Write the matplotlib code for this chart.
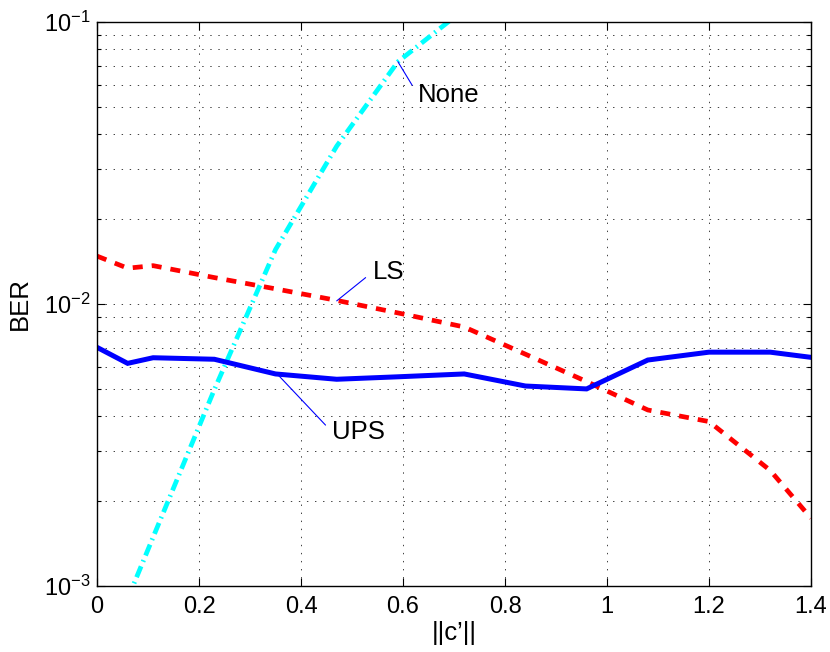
import matplotlib
matplotlib.use("Agg")
import matplotlib.pyplot as plt
from matplotlib.ticker import FixedLocator, LogLocator, NullFormatter

plt.rcParams["font.family"] = ["Liberation Sans", "DejaVu Sans"]
plt.rcParams["mathtext.fontset"] = "custom"
plt.rcParams["mathtext.rm"] = "Liberation Sans"
plt.rcParams["mathtext.it"] = "Liberation Sans:italic"
plt.rcParams["mathtext.default"] = "regular"
plt.rcParams["lines.scale_dashes"] = False

# ||c'|| values where the curves were computed
c_norm = [0, 0.06, 0.11, 0.23, 0.35, 0.47, 0.59, 0.72, 0.84, 0.96, 1.08, 1.20, 1.32, 1.40]
ber_ups = [0.00702, 0.00616, 0.00645, 0.00637, 0.00565, 0.00541, 0.00552, 0.00565,
           0.00512, 0.00500, 0.00633, 0.00675, 0.00675, 0.00647]
ber_ls = [0.01479, 0.0134, 0.01368, 0.01241, 0.01132, 0.01030, 0.00930, 0.00829,
          0.00664, 0.00531, 0.00421, 0.00383, 0.00257, 0.00174]

c_none = [0.06, 0.11, 0.23, 0.35, 0.47, 0.59, 0.72]
ber_none = [0.00090, 0.00149, 0.00497, 0.0156, 0.0363, 0.0723, 0.111]

x_ticks = [0, 0.2, 0.4, 0.6, 0.8, 1.0, 1.2, 1.4]
x_tick_labels = ["0", "0.2", "0.4", "0.6", "0.8", "1", "1.2", "1.4"]

fig = plt.figure(figsize=(8.3, 6.52), dpi=100)
ax = fig.add_axes([0.1169, 0.1012, 0.8602, 0.8650])

ax.plot(c_none, ber_none, color="#00ffff", lw=3.4,
        linestyle=(0, (8.5, 3.6, 1.2, 3.6)), solid_capstyle="butt", dash_capstyle="butt")
ax.plot(c_norm, ber_ls, color="#ff0000", lw=3.4,
        linestyle=(0, (7.2, 6.5)), dash_capstyle="butt")
ax.plot(c_norm, ber_ups, color="#0000ff", lw=3.6, solid_joinstyle="miter")

ax.set_yscale("log")
ax.set_xlim(0, 1.4)
ax.set_ylim(1e-3, 1e-1)

ax.xaxis.set_major_locator(FixedLocator(x_ticks))
ax.set_xticklabels(x_tick_labels)
ax.yaxis.set_major_locator(LogLocator(base=10, numticks=10))
ax.yaxis.set_minor_locator(LogLocator(base=10, subs=range(2, 10), numticks=10))
ax.yaxis.set_minor_formatter(NullFormatter())

ax.tick_params(which="both", direction="in", top=True, right=True, labelsize=17, width=0.8)
ax.tick_params(axis="x", which="major", length=6, pad=7)
ax.tick_params(axis="y", which="major", length=6, pad=5)
ax.tick_params(axis="y", which="minor", length=3)

grid_style = dict(color="0.25", lw=0.7, linestyle=(0, (1, 4.8)))
ax.grid(True, which="major", axis="both", **grid_style)
ax.grid(True, which="minor", axis="y", **grid_style)
for s in ax.spines.values():
    s.set_linewidth(1.0)

ax.set_xlabel("||c\u2019||", fontsize=18.5)
ax.set_ylabel("BER", fontsize=18.5)
ax.xaxis.set_label_coords(0.5, -0.062)
ax.yaxis.set_label_coords(-0.0915, 0.5)

line_props = dict(arrowstyle="-", color="#0000ff", lw=0.8, relpos=(0, 0.5), shrinkA=4, shrinkB=0)
ax.annotate("None", xy=(0.59, 0.0723), xytext=(0.629, 0.0553), fontsize=18.5,
            ha="left", va="center", arrowprops=line_props)
ax.annotate("LS", xy=(0.47, 0.01026), xytext=(0.5406, 0.0130), fontsize=18.5,
            ha="left", va="center", arrowprops=line_props)
ax.annotate("UPS", xy=(0.352, 0.00568), xytext=(0.461, 0.003515), fontsize=18.5,
            ha="left", va="center", arrowprops=line_props)

fig.savefig("out.png", dpi=100)
